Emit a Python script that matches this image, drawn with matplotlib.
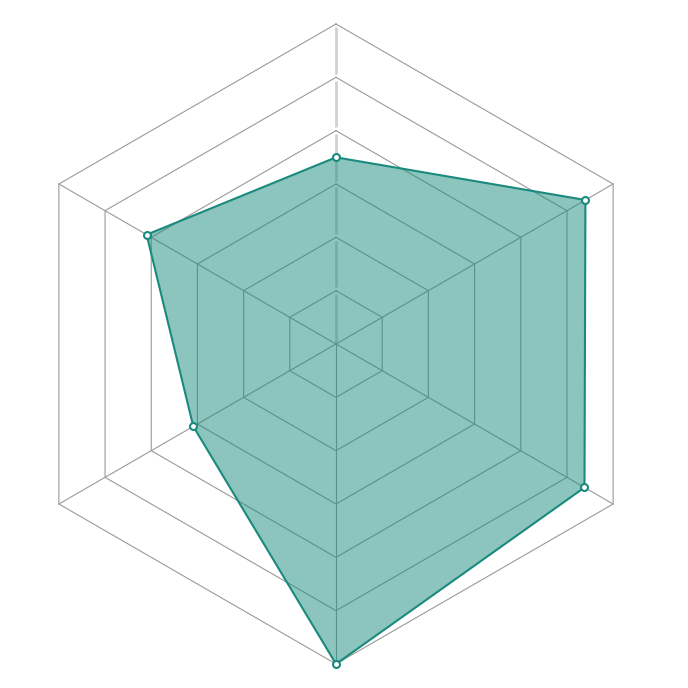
import numpy as np
import matplotlib
matplotlib.use("Agg")
import matplotlib.pyplot as plt

# Data
categories = ["A", "B", "C", "D", "E", "F"]
values = [3.5, 5.4, 5.38, 6.0, 3.09, 4.1]
max_value = 6.0
ring_levels = [1, 2, 3, 4, 5, 6]

line_color = "#1a8a7e"
grid_color = "#9a9a9a"

fig = plt.figure(figsize=(6.88, 6.88), dpi=100)
ax = fig.add_axes([16/688, 24/688, 640/688, 640/688], projection="polar")
ax.set_theta_offset(np.pi/2)
ax.set_theta_direction(-1)
ax.set_ylim(0, max_value)
ax.axis("off")

n = len(categories)
theta = np.arange(n) * 2*np.pi/n
theta_closed = np.append(theta, theta[0])

# hexagonal grid rings
for lv in ring_levels:
    ax.plot(theta_closed, [lv]*(n+1), color=grid_color, lw=0.8, zorder=1, clip_on=False)

# spokes
for i, t in enumerate(theta):
    if i == 0:
        # top radial axis: light, thicker, with small gaps at rings
        for lv in ring_levels:
            ax.plot([t, t], [lv-1+0.06 if lv > 1 else 0, lv-0.06],
                    color="#d0d0d0", lw=2.0, zorder=1, solid_capstyle="butt", clip_on=False)
    else:
        ax.plot([t, t], [0, max_value], color=grid_color, lw=0.8, zorder=1, clip_on=False)

vals_closed = values + [values[0]]
ax.fill(theta_closed, vals_closed, color=line_color, alpha=0.5, lw=0, zorder=2, clip_on=False)
ax.plot(theta_closed, vals_closed, color=line_color, lw=1.5, zorder=3, clip_on=False)
ax.plot(theta, values, linestyle="none", marker="o", markersize=5,
        markerfacecolor="white", markeredgecolor=line_color, markeredgewidth=1.5,
        zorder=4, clip_on=False)

fig.savefig("out.png", dpi=100)
